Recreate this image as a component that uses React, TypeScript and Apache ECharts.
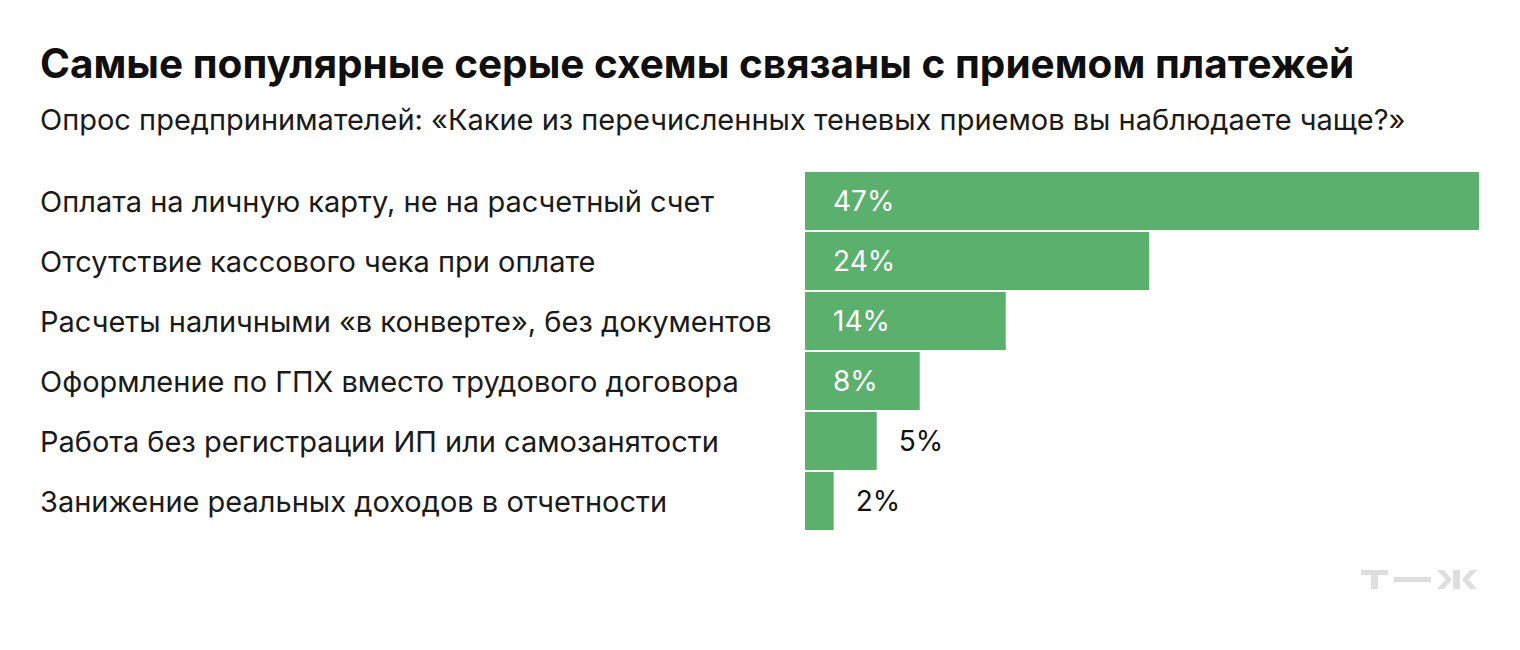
import React, { useEffect, useRef } from "react";
import * as echarts from "echarts";

const categories = [
  "Оплата на личную карту, не на расчетный счет",
  "Отсутствие кассового чека при оплате",
  "Расчеты наличными «в конверте», без документов",
  "Оформление по ГПХ вместо трудового договора",
  "Работа без регистрации ИП или самозанятости",
  "Занижение реальных доходов в отчетности",
];
const shares = [47, 24, 14, 8, 5, 2];

const TITLE = "Самые популярные серые схемы связаны с приемом платежей";
const SUBTITLE = "Опрос предпринимателей: «Какие из перечисленных теневых приемов вы наблюдаете чаще?»";

const GREEN = "#5bb06e";
const LOGO_GREY = "#dedede";
const FONT = "Inter, 'Noto Sans', sans-serif";

// "т—ж" brand mark, drawn from simple shapes
function logo(x0: number, y0: number) {
  const s = { fill: LOGO_GREY };
  return {
    type: "group",
    x: x0,
    y: y0,
    children: [
      // т
      { type: "rect", shape: { x: 0, y: 0, width: 27, height: 5 }, style: s },
      { type: "rect", shape: { x: 10, y: 0, width: 7, height: 19 }, style: s },
      // dash
      { type: "rect", shape: { x: 33, y: 7, width: 37, height: 5 }, style: s },
      // ж
      {
        type: "polygon",
        shape: { points: [[76, 0], [83, 0], [91, 9.5], [83, 19], [76, 19], [84.5, 9.5]] },
        style: s,
      },
      { type: "rect", shape: { x: 92, y: 0, width: 7, height: 19 }, style: s },
      {
        type: "polygon",
        shape: { points: [[116, 0], [109, 0], [101, 9.5], [109, 19], [116, 19], [107.5, 9.5]] },
        style: s,
      },
    ],
  };
}

export default function App() {
  const ref = useRef<HTMLDivElement>(null);

  useEffect(() => {
    if (!ref.current) return;
    const chart = echarts.init(ref.current, undefined, { renderer: "svg" });

    const data = shares.map((v) => {
      const inside = v >= 8;
      return {
        value: v,
        label: inside
          ? { position: "insideLeft", distance: 28, color: "#ffffff" }
          : { position: "right", distance: 22, color: "#111111" },
      };
    });

    chart.setOption({
      animation: false,
      backgroundColor: "#ffffff",
      graphic: [
        {
          type: "text",
          left: 40,
          top: 43,
          style: {
            text: TITLE,
            font: `700 40.5px ${FONT}`,
            fill: "#0f0f0f",
          },
        },
        {
          type: "text",
          left: 40,
          top: 105,
          style: {
            text: SUBTITLE,
            font: `400 29px ${FONT}`,
            fill: "#1a1a1a",
          },
        },
        logo(1361, 570),
      ],
      grid: { left: 805, right: 41, top: 171, height: 360 },
      xAxis: {
        type: "value",
        min: 0,
        max: 47,
        show: false,
      },
      yAxis: {
        type: "category",
        inverse: true,
        data: categories,
        axisLine: { show: false },
        axisTick: { show: false },
        splitLine: { show: false },
        axisLabel: {
          align: "left",
          margin: 765,
          fontFamily: FONT,
          fontSize: 29,
          color: "#1a1a1a",
        },
      },
      series: [
        {
          type: "bar",
          data,
          barWidth: 58,
          itemStyle: { color: GREEN },
          label: {
            show: true,
            formatter: "{c}%",
            fontFamily: FONT,
            fontSize: 28,
          },
        },
      ],
    });

    return () => chart.dispose();
  }, []);

  return (
    <div
      ref={ref}
      style={{ position: "fixed", left: 0, top: 0, width: 1520, height: 650 }}
    />
  );
}
